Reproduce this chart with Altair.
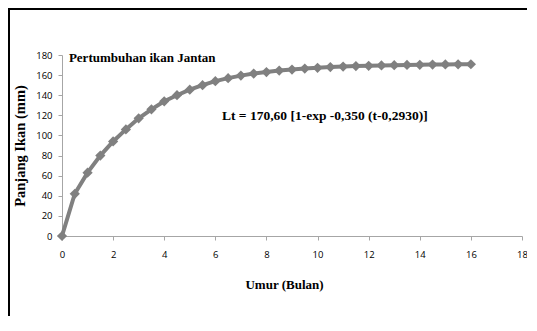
import altair as alt
import pandas as pd

umur = [0, 0.5, 1, 1.5, 2, 2.5, 3, 3.5, 4, 4.5, 5, 5.5, 6, 6.5, 7, 7.5, 8,
        8.5, 9, 9.5, 10, 10.5, 11, 11.5, 12, 12.5, 13, 13.5, 14, 14.5, 15, 15.5, 16]
panjang = [0, 42, 63, 80, 94, 106, 117, 126, 134, 140, 145.5, 150, 154, 157,
           159.5, 161.5, 163, 164.5, 165.5, 166.5, 167.3, 168, 168.5, 169, 169.3,
           169.6, 169.9, 170.1, 170.3, 170.5, 170.6, 170.7, 170.8]

df = pd.DataFrame({"umur": umur, "panjang": panjang})

label_font = "Open Sans"
title_font = "Liberation Serif"

x = alt.X("umur:Q", title="Umur (Bulan)",
          scale=alt.Scale(domain=[0, 18], nice=False),
          axis=alt.Axis(values=list(range(0, 19, 2)), grid=False, labelOverlap=False,
                        domainColor="#a6a6a6", tickColor="#a6a6a6", tickSize=4,
                        labelFont=label_font, labelFontSize=9.5, labelColor="#000",
                        labelPadding=9, labelFlush=False,
                        titleFont=title_font, titleFontSize=13, titleFontWeight="bold",
                        titleColor="#000", titleX=222, titleY=48, titleBaseline="middle"))
y = alt.Y("panjang:Q", title="Panjang Ikan (mm)",
          scale=alt.Scale(domain=[0, 180], nice=False),
          axis=alt.Axis(values=list(range(0, 181, 20)), grid=False, labelOverlap=False,
                        domainColor="#a6a6a6", tickColor="#a6a6a6", tickSize=4,
                        labelFont=label_font, labelFontSize=9.5, labelColor="#000",
                        labelPadding=6, labelFlush=False,
                        titleFont=title_font, titleFontSize=14.5, titleFontWeight="bold",
                        titleColor="#000", titleX=-42, titleY=90.5, titleAngle=270,
                        titleAlign="center", titleBaseline="middle"))

base = alt.Chart(df)
line = base.mark_line(color="#808080", strokeWidth=4).encode(x=x, y=y)
pts = base.mark_point(shape="diamond", filled=True, color="#808080",
                      size=105, opacity=1).encode(x=x, y=y)

ann = pd.DataFrame({
    "umur": [0.27, 6.26],
    "panjang": [177, 119.5],
    "label": ["Pertumbuhan ikan Jantan", "Lt = 170,60 [1-exp -0,350 (t-0,2930)]"],
    "fs": [13, 13.5],
})
texts = alt.Chart(ann).mark_text(align="left", baseline="middle", font=title_font,
                                 fontWeight="bold", color="#000").encode(
    x=x, y=y, text="label:N",
    size=alt.Size("fs:Q", scale=None, legend=None))

one = alt.Data(values=[{"a": 1}])
top_border = alt.Chart(one).mark_rule(color="#000", strokeWidth=2).encode(
    x=alt.value(-54), x2=alt.value(475), y=alt.value(-46))
left_border = alt.Chart(one).mark_rule(color="#000", strokeWidth=2).encode(
    x=alt.value(-53), y=alt.value(-47), y2=alt.value(268))

chart = alt.layer(line, pts, texts, top_border, left_border).properties(
    width=460, height=181,
    autosize=alt.AutoSizeParams(type="none"),
    padding={"left": 54, "top": 47, "right": 5, "bottom": 80},
).configure_view(stroke=None)

chart.save("out.html", embed_options={"renderer": "svg", "actions": False})
